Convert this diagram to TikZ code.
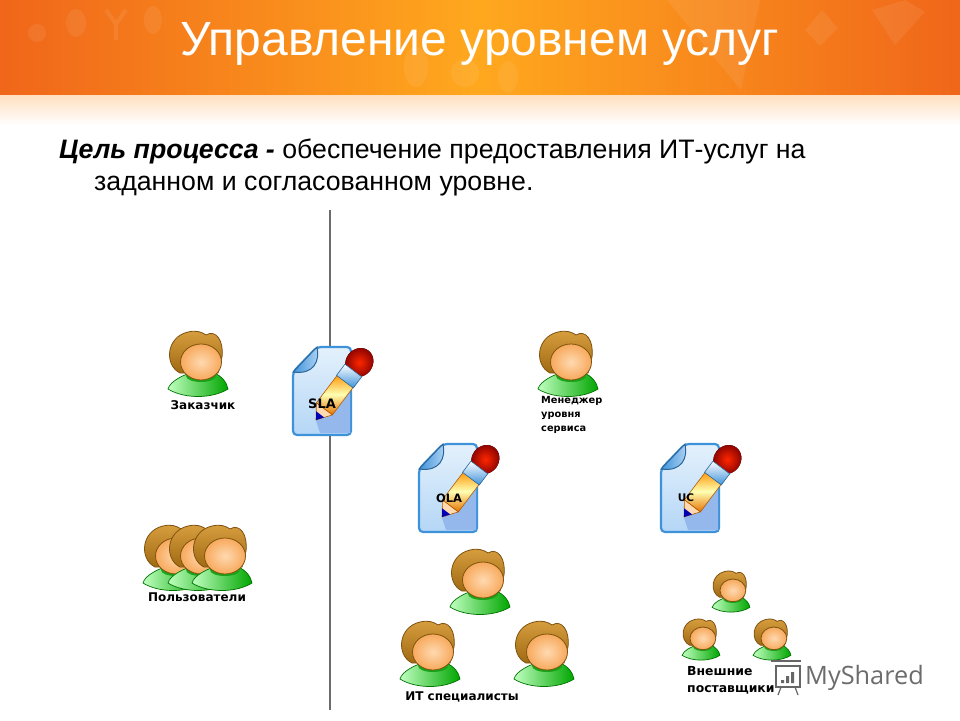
\documentclass[tikz,border=0pt]{standalone}
\usepackage{fontspec}
\setmainfont{Liberation Sans}
\newfontfamily\tagfont{DejaVu Sans}
\newfontfamily\markfont{Open Sans}
\usetikzlibrary{positioning}
\definecolor{bandedge}{HTML}{F0661A}
\definecolor{bandmid}{HTML}{FFA81E}
\definecolor{hairline}{HTML}{7E5210}
\definecolor{hairtop}{HTML}{D9A040}
\definecolor{hairlow}{HTML}{A06A12}
\definecolor{facein}{HTML}{FFD9B0}
\definecolor{faceout}{HTML}{F7A95C}
\definecolor{docline}{HTML}{3E92DA}
\definecolor{docpale}{HTML}{E4F1FC}
\definecolor{docblue}{HTML}{B4D6F6}
\definecolor{docshade}{HTML}{94B8EC}
\tikzset{
  tagtext/.style={font=\tagfont\bfseries\fontsize{12}{14}\selectfont,text=black,inner sep=0pt,align=left},
  doctag/.style={tagtext,anchor=center},
  ghost/.style={fill=white,opacity=.07},
  pics/person/.style={code={
    \draw[draw=green!45!black,line width=.7pt,left color=green!25!white,right color=green!65!black]
      (-30,26) .. controls (-28,18) and (-14,12) .. (-8,10) -- (16,10)
      .. controls (24,13) and (29,20) .. (30,26) .. controls (14,36) and (-14,36) .. (-30,26) -- cycle;
    \fill[green!60!black!90!white] (3,13) ellipse (15 and 6);
    \draw[draw=hairline,line width=.8pt,top color=hairtop,bottom color=hairlow]
      (-18,10) .. controls (-34,2) and (-32,-26) .. (-10,-31) .. controls (-2,-33) and (4,-31) .. (8,-28)
      .. controls (18,-34) and (26,-22) .. (24,-6) -- (20,10) -- cycle;
    \draw[draw=hairline,line width=.8pt,inner color=facein,outer color=faceout]
      (3,-1) ellipse (20.5 and 18);
  }},
  pics/sheet/.style={code={
    \draw[draw=docline,line width=2.2pt,rounded corners=4pt,top color=docpale,bottom color=docblue]
      (-29,-19) -- (-5,-44) -- (29,-44) -- (29,44) -- (-29,44) -- cycle;
    \fill[docshade] (-6,30) -- (28,-6) -- (28,42) -- (-2,42) -- cycle;
    \draw[draw=docline!70!black,line width=1pt,left color=docline,right color=docblue]
      (-29,-19) -- (-5,-44) .. controls (-2,-30) and (-8,-16) .. (-29,-19) -- cycle;
    \begin{scope}[shift={(-6,29)},rotate=53]
      \draw[draw=orange!70!black,line width=.6pt,fill=facein] (0,0) -- (14,10) -- (14,-10) -- cycle;
      \fill[blue!70!black] (0,0) -- (7,5) -- (7,-5) -- cycle;
      \draw[draw=orange!70!black,line width=.6pt,top color=orange!85!yellow,bottom color=orange!90!black,middle color=yellow!30!white]
        (14,-10) rectangle (50,10);
      \fill[inner color=red!70!orange,outer color=red!50!black] (72,0) ellipse (15 and 13.5);
      \draw[draw=docline!70!black,line width=.6pt,top color=white,bottom color=docline] (48,-10.5) rectangle (62,10.5);
    \end{scope}
  }}
}
\begin{document}
\begin{tikzpicture}[x=1pt,y=-1pt]
  \useasboundingbox (0,0) rectangle (960,720);
  \fill[white] (0,0) rectangle (960,720);
  % banner
  \fill[left color=bandedge,right color=bandedge,middle color=bandmid] (0,0) rectangle (960,95);
  \fill[top color=orange!25!white,bottom color=white] (0,95) rectangle (960,125);
  \fill[ghost] (667,0) -- (760,0) -- (741,90) -- (700,40) -- cycle;
  \fill[ghost] (805,30) -- (822,10) -- (838,28) -- (820,46) -- cycle;
  \fill[ghost] (872,10) -- (905,0) -- (925,12) -- (895,45) -- cycle;
  \fill[ghost] (416,67) ellipse (12 and 20);
  \fill[ghost] (465,73) circle (14);
  \fill[ghost] (508,77) ellipse (10 and 16);
  \fill[ghost] (37,33) circle (9);
  \fill[ghost] (76,23) ellipse (10 and 14);
  \draw[white,opacity=.08,line width=4pt] (106,10) -- (116,24) -- (126,10) (116,24) -- (116,40);
  \fill[ghost] (153,20) ellipse (9 and 14);
  \node[text=white,font=\fontsize{48}{52}\selectfont,inner sep=0pt,anchor=base] (title) at (480,55) {Управление уровнем услуг};
  % goal text
  \node[font=\fontsize{26.7}{32}\selectfont,inner sep=0pt,anchor=base west] (goalfirst) at (59,158)
    {\textbf{\textit{Цель процесса -}} обеспечение предоставления ИТ-услуг на};
  \node[font=\fontsize{26.7}{32}\selectfont,inner sep=0pt,anchor=base west] (goalsecond) at (94,190)
    {заданном и согласованном уровне.};
  % border line
  \coordinate (linetop) at (330,210);
  \coordinate (linebottom) at (330,710);
  \draw[gray!85!black,line width=1.5pt] (linetop) -- (linebottom);
  % people
  \pic (customer) at (198,363) {person};
  \pic (manager) at (568,363) {person};
  \pic (userone) at (173,557) {person};
  \pic (usertwo) at (198,557) {person};
  \pic (userthree) at (222,557) {person};
  \pic (itone) at (480,581) {person};
  \pic (ittwo) at (430,653) {person};
  \pic (itthree) at (544,653) {person};
  \pic[scale=.63] (extone) at (731,591) {person};
  \pic[scale=.63] (exttwo) at (701,639) {person};
  \pic[scale=.63] (extthree) at (772,639) {person};
  % documents
  \pic (sladoc) at (322,391) {sheet};
  \pic (oladoc) at (448,488) {sheet};
  \pic (ucdoc) at (690,488) {sheet};
  \node[doctag,font=\tagfont\bfseries\fontsize{13}{16}\selectfont] (slatag) at (322,404) {SLA};
  \node[doctag,font=\tagfont\bfseries\fontsize{11.5}{14}\selectfont] (olatag) at (449,498) {OLA};
  \node[doctag,font=\tagfont\bfseries\fontsize{10.5}{14}\selectfont] (uctag) at (686,498) {UC};
  % labels
  \node[tagtext,anchor=center] (customertag) at (203,405) {Заказчик};
  \node[tagtext,anchor=north west,font=\tagfont\bfseries\fontsize{9.8}{14}\selectfont] (managertag) at (541,396) {Менеджер\\уровня\\сервиса};
  \node[tagtext,anchor=center] (usertag) at (197,597) {Пользователи};
  \node[tagtext,anchor=center] (ittag) at (462,697) {ИТ специалисты};
  \node[tagtext,anchor=north west,font=\tagfont\bfseries\fontsize{12.4}{17}\selectfont] (exttag) at (687,666) {Внешние\\поставщики};
  % watermark
  \node[font=\markfont\fontsize{25.3}{30}\selectfont,text=gray!85!black,inner sep=0pt,anchor=base west] (markname) at (805,684) {MyShared};
  \draw[gray!80!black,line width=1.6pt] (771,661) -- (801,661);
  \draw[gray!80!black,line width=1.6pt] (776,666) rectangle (800,687);
  \draw[gray!80!black,line width=1.2pt] (781,687) -- (778,695) (795,687) -- (798,695);
  \fill[gray!80!black] (781,680) rectangle (784,683) (786,676) rectangle (789,683) (791,672) rectangle (794,683);
\end{tikzpicture}
\end{document}
